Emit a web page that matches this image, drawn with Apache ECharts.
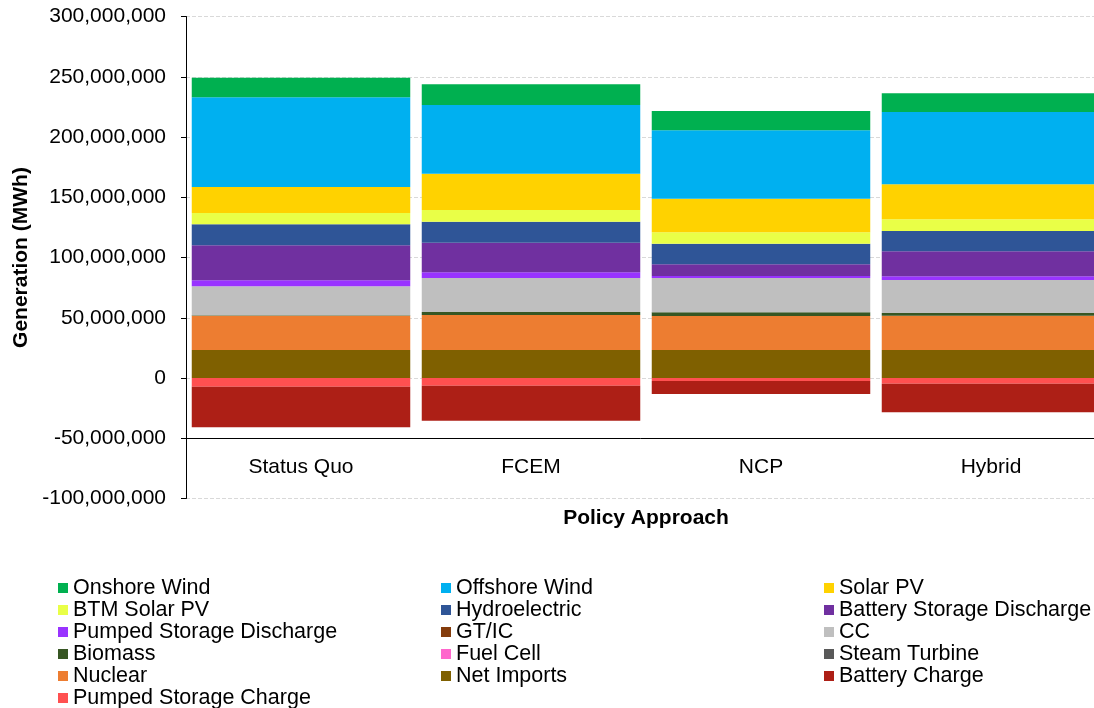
<!DOCTYPE html>
<html>
<head>
<meta charset="utf-8">
<script src="https://cdn.jsdelivr.net/npm/echarts@6/dist/echarts.min.js"></script>
<style>
html,body{margin:0;padding:0;background:#fff;}
#chart{width:1094px;height:708px;}
</style>
</head>
<body>
<div id="chart"></div>
<script>
const categories = ['Status Quo', 'FCEM', 'NCP', 'Hybrid'];
const yTicks = [-100000000, -50000000, 0, 50000000, 100000000, 150000000, 200000000, 250000000, 300000000];

const netImports      = [23200000, 23200000, 23200000, 23200000];
const nuclear         = [28500000, 29100000, 28300000, 28500000];
const steamTurbine    = [0, 0, 0, 0];
const fuelCell        = [0, 0, 0, 0];
const biomass         = [300000, 2500000, 3000000, 2200000];
const cc              = [24100000, 28200000, 28500000, 27400000];
const gtic            = [0, 0, 0, 0];
const pumpedDischarge = [5000000, 4700000, 1600000, 3100000];
const batteryDischarge= [29000000, 24600000, 9700000, 20700000];
const hydro           = [17400000, 17400000, 17200000, 16900000];
const btmSolar        = [9400000, 9700000, 9400000, 9700000];
const solarPV         = [21600000, 30200000, 27900000, 29000000];
const offshoreWind    = [74400000, 57000000, 56800000, 60000000];
const onshoreWind     = [16300000, 17100000, 16000000, 15600000];
const pumpedCharge    = [-7200000, -6400000, -2500000, -4700000];
const batteryCharge   = [-33700000, -29000000, -10800000, -23800000];

const seriesDefs = [
  ['Net Imports', netImports, '#7F6000'],
  ['Nuclear', nuclear, '#ED7D31'],
  ['Steam Turbine', steamTurbine, '#595959'],
  ['Fuel Cell', fuelCell, '#FF66CC'],
  ['Biomass', biomass, '#375623'],
  ['CC', cc, '#BFBFBF'],
  ['GT/IC', gtic, '#843C0C'],
  ['Pumped Storage Discharge', pumpedDischarge, '#9933FF'],
  ['Battery Storage Discharge', batteryDischarge, '#7030A0'],
  ['Hydroelectric', hydro, '#2F5597'],
  ['BTM Solar PV', btmSolar, '#E9FF47'],
  ['Solar PV', solarPV, '#FFD200'],
  ['Offshore Wind', offshoreWind, '#00B0F0'],
  ['Onshore Wind', onshoreWind, '#00B050'],
  ['Pumped Storage Charge', pumpedCharge, '#FF5050'],
  ['Battery Charge', batteryCharge, '#AD1F16']
];

const legendCol1 = ['Onshore Wind', 'BTM Solar PV', 'Pumped Storage Discharge', 'Biomass', 'Nuclear', 'Pumped Storage Charge'];
const legendCol2 = ['Offshore Wind', 'Hydroelectric', 'GT/IC', 'Fuel Cell', 'Net Imports'];
const legendCol3 = ['Solar PV', 'Battery Storage Discharge', 'CC', 'Steam Turbine', 'Battery Charge'];

const FONT = 'Liberation Sans, Arial, sans-serif';
function legendAt(left, data) {
  return {
    orient: 'vertical', left: left, top: 577, height: 200, width: 300, data: data,
    icon: 'rect', itemWidth: 10, itemHeight: 10, itemGap: 0, padding: 0,
    selectedMode: false,
    textStyle: { fontFamily: FONT, fontSize: 21.5, color: '#000', lineHeight: 21.5 }
  };
}

const chart = echarts.init(document.getElementById('chart'), null, { renderer: 'canvas' });
chart.setOption({
  animation: false,
  backgroundColor: '#fff',
  textStyle: { fontFamily: FONT },
  grid: { left: 186, right: -12, top: 16.5, bottom: 209.5, containLabel: false, outerBoundsMode: 'none' },
  legend: [legendAt(58, legendCol1), legendAt(441, legendCol2), legendAt(824, legendCol3)],
  xAxis: {
    type: 'category', data: categories, position: 'bottom', offset: -60,
    axisLine: { onZero: false, lineStyle: { color: '#000', width: 1 } },
    axisTick: { alignWithLabel: true, length: 4, lineStyle: { color: '#000' } },
    axisLabel: { fontFamily: FONT, fontSize: 21, color: '#000', margin: 18 },
    name: 'Policy Approach', nameLocation: 'middle', nameGap: 69,
    nameTextStyle: { fontFamily: FONT, fontSize: 21, fontWeight: 'bold', color: '#000' }
  },
  yAxis: {
    type: 'value', min: yTicks[0], max: yTicks[yTicks.length - 1], interval: 50000000,
    axisLine: { show: true, lineStyle: { color: '#000', width: 1 } },
    axisTick: { show: true, length: 5, lineStyle: { color: '#000' } },
    splitLine: { show: true, lineStyle: { color: '#D9D9D9', type: 'dashed' } },
    axisLabel: {
      fontFamily: FONT, fontSize: 21, color: '#000', margin: 20,
      formatter: v => v.toLocaleString('en-US')
    },
    name: 'Generation (MWh)', nameLocation: 'middle', nameGap: 145,
    nameTextStyle: { fontFamily: FONT, fontSize: 21, fontWeight: 'bold', color: '#000' }
  },
  series: seriesDefs.map(([name, data, color]) => ({
    name: name, type: 'bar', stack: 'gen', data: data,
    barCategoryGap: '5%',
    itemStyle: { color: color },
    emphasis: { disabled: true }
  }))
});
</script>
</body>
</html>
